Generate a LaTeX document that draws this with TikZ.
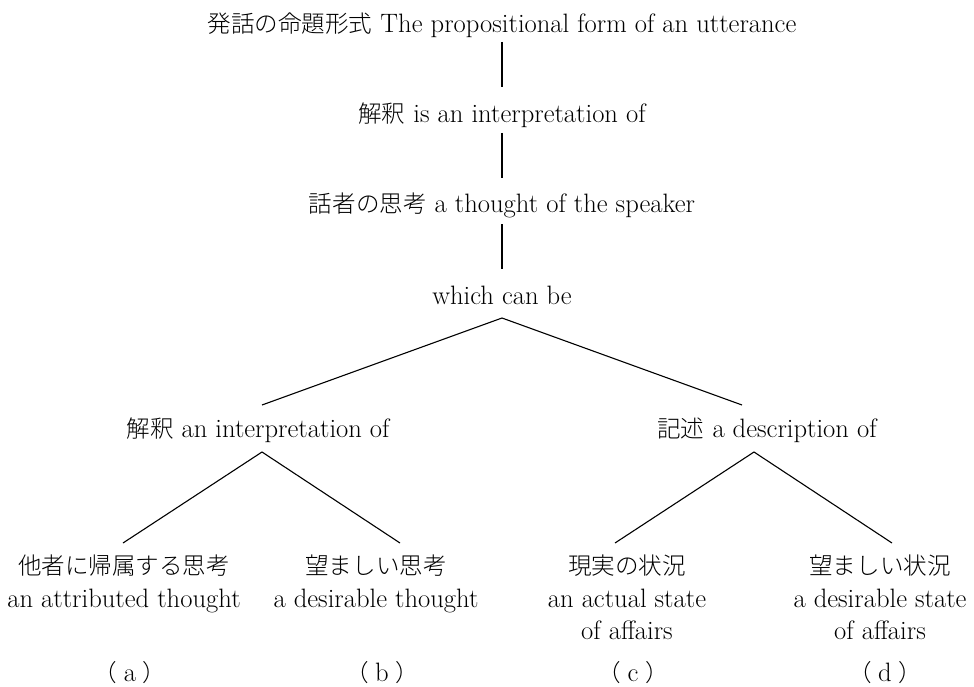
\documentclass[tikz,border=0pt]{standalone}
\usepackage{fontspec}
\IfFontExistsTF{Noto Sans CJK JP Light}
  {\newfontfamily\jp{Noto Sans CJK JP Light}[Scale=0.885]}
  {\newfontfamily\jp{Noto Sans CJK JP}[Scale=0.885]}
\usetikzlibrary{calc}
\tikzset{
  lbl/.style={inner sep=0pt, font=\fontsize{26.6}{32.5}\selectfont, align=center},
  vline/.style={line width=1.5pt},
  dline/.style={line width=1.1pt}
}
\newcommand{\paren}[1]{{\jp （}\hspace{0.25em}#1\hspace{0.25em}{\jp ）}}
\begin{document}
\begin{tikzpicture}[x=1pt,y=-1pt]
\useasboundingbox (0,0) rectangle (974,687);
% spine
\node[lbl] (top) at (502,25) {{\jp 発話の命題形式} The propositional form of an utterance};
\node[lbl] (n2) at (502,115) {{\jp 解釈} is an interpretation of};
\node[lbl] (n3) at (502,205) {{\jp 話者の思考} a thought of the speaker};
\node[lbl] (n4) at (502,295) {which can be};
% middle level
\node[lbl] (L) at (258,430) {{\jp 解釈} an interpretation of};
\node[lbl] (R) at (767,430) {{\jp 記述} a description of};
% leaves
\node[lbl, anchor=north] (a) at (124,555) {{\jp 他者に帰属する思考}\\an attributed thought};
\node[lbl, anchor=north] (b) at (376,555) {{\jp 望ましい思考}\\a desirable thought};
\node[lbl, anchor=north] (c) at (627,555) {{\jp 現実の状況}\\an actual state\\of affairs};
\node[lbl, anchor=north] (d) at (880,555) {{\jp 望ましい状況}\\a desirable state\\of affairs};
% letters
\node[lbl] (pa) at (130,673) {\paren{a}};
\node[lbl] (pb) at (382,673) {\paren{b}};
\node[lbl] (pc) at (633,673) {\paren{c}};
\node[lbl] (pd) at (885,673) {\paren{d}};
% connectors
\draw[vline] ($(top)+(0,17)$) -- ($(n2)+(0,-28)$);
\draw[vline] ($(n2)+(0,18)$) -- ($(n3)+(0,-27)$);
\draw[vline] ($(n3)+(0,19)$) -- ($(n4)+(0,-26)$);
\draw[dline] ($(L)+(4,-25)$) -- ($(n4)+(0,23)$) -- ($(R)+(-25,-25)$);
\draw[dline] ($(a.north)+(-1,-12)$) -- ($(L)+(4,22)$) -- ($(b.north)+(24,-12)$);
\draw[dline] ($(c.north)+(-12,-12)$) -- ($(R)+(-13,22)$) -- ($(d.north)+(12,-12)$);
\end{tikzpicture}
\end{document}
